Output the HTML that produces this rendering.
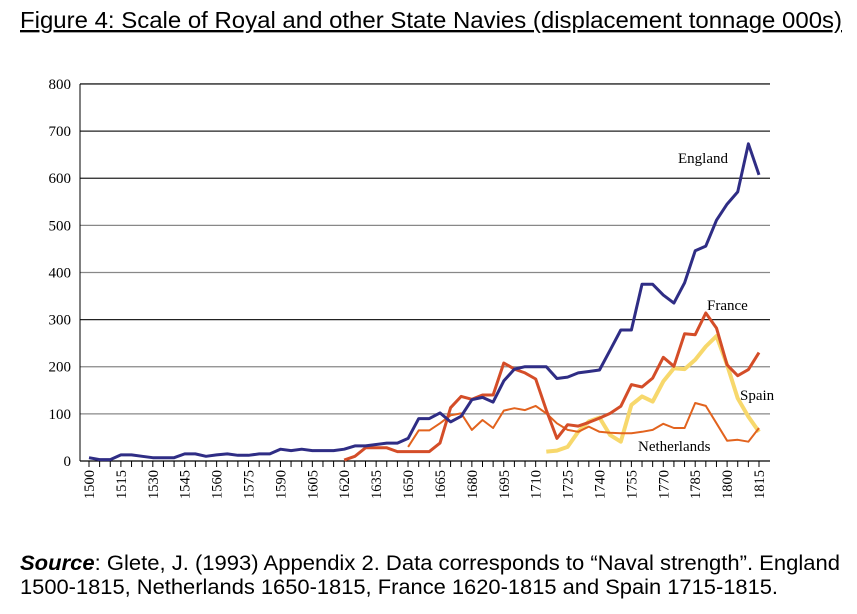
<!DOCTYPE html>
<html><head><meta charset="utf-8"><style>
body{margin:0;background:#fff;width:857px;height:609px;overflow:hidden}
</style></head><body>
<svg width="857" height="609" xmlns="http://www.w3.org/2000/svg">
<text x="20" y="28" font-family="Liberation Sans, sans-serif" font-size="20.5" textLength="822" lengthAdjust="spacingAndGlyphs" style="font-size:23.5px" text-decoration="underline" fill="#000">Figure 4: Scale of Royal and other State Navies (displacement tonnage 000s)</text>
<g id="grid"></g>
<g id="yaxis"></g>
<g id="xaxis"></g>
<g id="series"></g>
<text x="678" y="163" font-family="Liberation Serif, serif" font-size="15">England</text>
<text x="707" y="310" font-family="Liberation Serif, serif" font-size="15">France</text>
<text x="740" y="400" font-family="Liberation Serif, serif" font-size="15">Spain</text>
<text x="638" y="451" font-family="Liberation Serif, serif" font-size="15">Netherlands</text>
<text x="20" y="570" font-family="Liberation Sans, sans-serif" font-size="21.5" textLength="820" lengthAdjust="spacingAndGlyphs"><tspan font-weight="bold" font-style="italic">Source</tspan>: Glete, J. (1993) Appendix 2. Data corresponds to “Naval strength”. England</text>
<text x="20" y="594" font-family="Liberation Sans, sans-serif" font-size="21.5" textLength="758" lengthAdjust="spacingAndGlyphs">1500-1815, Netherlands 1650-1815, France 1620-1815 and Spain 1715-1815.</text>
</svg>
<script>
const england = [7,3,3,13,13,10,7,7,7,15,15,10,13,15,12,12,15,15,25,22,25,22,22,22,25,32,32,35,38,38,48,90,90,102,83,95,130,135,125,170,195,200,200,200,175,178,187,190,193,235,278,278,375,375,352,335,378,446,456,511,545,571,673,607];
const englandStart = 1500;
const france = [2,10,28,28,28,20,20,20,20,38,113,137,131,140,140,208,195,187,174,108,48,77,74,82,91,101,116,162,157,176,220,201,270,268,314,282,204,181,194,230];
const franceStart = 1620;
const netherlands = [30,65,65,80,97,101,66,87,70,107,112,108,117,101,80,66,62,73,62,60,59,59,62,66,79,70,70,123,117,80,43,45,41,70];
const netherlandsStart = 1650;
const spain = [20,22,30,62,84,92,55,41,119,137,126,169,197,195,215,243,265,204,133,94,62];
const spainStart = 1715;
const yTicks = [0,100,200,300,400,500,600,700,800];
const xTickLabels = [1500,1515,1530,1545,1560,1575,1590,1605,1620,1635,1650,1665,1680,1695,1710,1725,1740,1755,1770,1785,1800,1815];

const NS='http://www.w3.org/2000/svg';
const xs = yr => 89 + (yr-1500)/5*10.635;
const ys = v => 461 - v*0.4713;
function mk(tag, attrs, parent){const e=document.createElementNS(NS,tag);for(const k in attrs)e.setAttribute(k,attrs[k]);parent.appendChild(e);return e;}
const grid=document.getElementById('grid'), ya=document.getElementById('yaxis'), xa=document.getElementById('xaxis'), se=document.getElementById('series');
yTicks.forEach(v=>{
  if(v>0){const l=mk('line',{x1:80,x2:770,y1:ys(v),y2:ys(v),stroke:v>=300&&v!=400&&v!=500?'#222':'#888','stroke-width':1.3},grid);
  
  }
  const t=mk('text',{x:71,y:ys(v)+5,'text-anchor':'end','font-family':'Liberation Serif, serif','font-size':15},ya);
  t.textContent=v;
  
  
});
mk('line',{x1:80,x2:80,y1:ys(800),y2:461,stroke:'#000','stroke-width':1},ya);
mk('line',{x1:80,x2:770,y1:461,y2:461,stroke:'#000','stroke-width':1.3},xa);
for(let yr=1500;yr<=1815;yr+=5){mk('line',{x1:xs(yr),x2:xs(yr),y1:461,y2:467,stroke:'#000','stroke-width':1},xa);}
xTickLabels.forEach(yr=>{
  const x=xs(yr)+5;
  const t=mk('text',{x:x,y:470,'text-anchor':'end','font-family':'Liberation Serif, serif','font-size':14.5,transform:`rotate(-90 ${x} 470)`},xa);
  t.textContent=yr;
  
  
});
function line(data,start,color,w,name){
  const pts=data.map((v,i)=>xs(start+i*5).toFixed(1)+','+ys(v).toFixed(1)).join(' ');
  const p=mk('polyline',{points:pts,fill:'none',stroke:color,'stroke-width':w,'stroke-linejoin':'round'},se);
  
  
}
line(spain,spainStart,'#f7d86c',4,'spain-line');
line(netherlands,netherlandsStart,'#e2631e',2,'netherlands-line');
line(france,franceStart,'#d44d28',3,'france-line');
line(england,englandStart,'#2f2d85',3,'england-line');
</script>
</body></html>
